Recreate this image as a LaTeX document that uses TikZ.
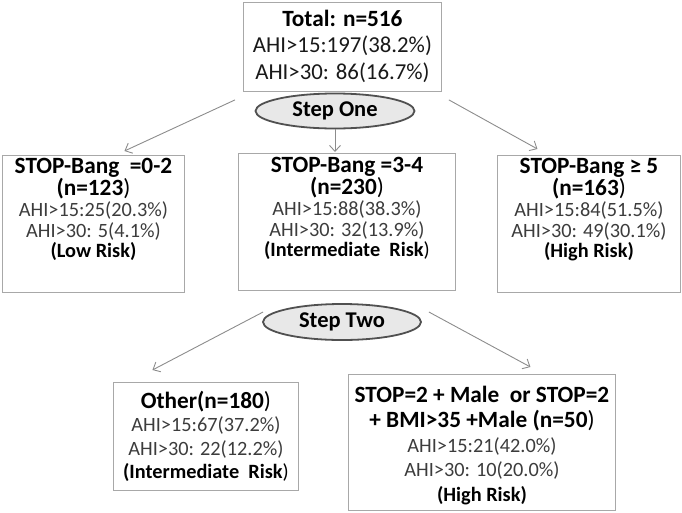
\documentclass[tikz,border=0pt]{standalone}
\usepackage{fontspec}
\setmainfont{Carlito}
\usetikzlibrary{arrows.meta,shapes.geometric}
\definecolor{boxgray}{HTML}{A8A8A8}
\definecolor{arrgray}{HTML}{8C8C8C}
\definecolor{ovalfill}{HTML}{E8E8E8}
\definecolor{ovaldraw}{HTML}{505050}
\definecolor{txtgray}{HTML}{3C3C3C}
\tikzstyle{box}=[rectangle,draw=boxgray,line width=0.9pt,
                 inner sep=0pt,anchor=north west]
\tikzstyle{oval}=[ellipse,draw=ovaldraw,fill=ovalfill,line width=1.8pt,
                  inner sep=0pt,font=\fontsize{22.5}{22.5}\selectfont\bfseries]
\tikzstyle{arr}=[draw=arrgray,line width=0.9pt,
                 -{Straight Barb[length=6pt,width=11pt]}]
\newcommand{\hd}{\fontsize{23.3}{\hdpitch}\selectfont\bfseries\color{black}}
\newcommand{\tp}{\fontsize{22.8}{\pitchval}\selectfont\mdseries\color{black!90}}
\newcommand{\bd}{\fontsize{20.3}{\pitchval}\selectfont\mdseries\color{txtgray}}
\newcommand{\bb}{\fontsize{20.3}{\pitchval}\selectfont\bfseries\color{black}}
\newcommand{\md}{\mdseries}
\newcommand{\boxtext}[6][22.5]{\parbox[t][#3][t]{#2}{\def\hdpitch{#1}\def\pitchval{#4}%
  \lineskiplimit=-30pt\centering\rule{0pt}{#5}#6}}

\begin{document}
\begin{tikzpicture}[x=1pt,y=-1pt]
    \useasboundingbox (0,0) rectangle (682,512);
    \node (total) at (243,2) [box]{\boxtext{198pt}{89pt}{26.5}{24pt}{%
      \hd Total: n=516\\\tp AHI>15:197(38.2\%)\\AHI>30: 86(16.7\%)}};
    \node (stepone) at (335,111) [oval,minimum width=159pt,minimum height=35pt]{Step One};
    \node (low) at (2,155) [box]{\boxtext{182pt}{137pt}{20.6}{18pt}{%
      \hd STOP-Bang\ \ =0-2\\(n=123\md)\\\bd AHI>15:25(20.3\%)\\AHI>30: 5(4.1\%)\\\bb(Low Risk)}};
    \node (mid) at (238,153) [box]{\boxtext{217pt}{137pt}{20.6}{19pt}{%
      \hd STOP-Bang =3-4\\(n=230\md)\\\bd AHI>15:88(38.3\%)\\AHI>30: 32(13.9\%)\\\bb(Intermediate\ \ Risk\md)}};
    \node (high) at (497,155) [box]{\boxtext{183pt}{137pt}{20.6}{18pt}{%
      \hd STOP-Bang ≥ 5\\(n=163\md)\\\bd AHI>15:84(51.5\%)\\AHI>30: 49(30.1\%)\\\bb(High Risk)}};
    \node (steptwo) at (342,322) [oval,minimum width=158pt,minimum height=36pt]{Step Two};
    \node (other) at (113,382) [box]{\boxtext{185pt}{108pt}{23.5}{26pt}{%
      \hd Other(n=180\md)\\\bd AHI>15:67(37.2\%)\\AHI>30: 22(12.2\%)\\\bb(Intermediate\ \ Risk\md)}};
    \node (male) at (348,374) [box]{\boxtext[25]{267pt}{136pt}{24.7}{28pt}{%
      \hd STOP=2 + Male\ \ or STOP=2\\+ BMI>35 +Male (n=50\md)\\\bd AHI>15:21(42.0\%)\\AHI>30: 10(20.0\%)\\\bb(High Risk)}};
    \draw[arr] ([shift={(-8,8)}]total.south west) -- ([shift={(31,-4)}]low.north);
    \draw[arr,shorten >=1pt] (stepone.south) -- (stepone.south |- mid.north);
    \draw[arr] ([shift={(7,8)}]total.south east) -- ([shift={(-51.5,-6)}]high.north);
    \draw[arr] ([shift={(1,-10)}]steptwo.west) -- ([shift={(-53.5,-12)}]other.north);
    \draw[arr] ([shift={(7,-10)}]steptwo.east) -- ([shift={(48.5,-7)}]male.north);
  \end{tikzpicture}
\end{document}
